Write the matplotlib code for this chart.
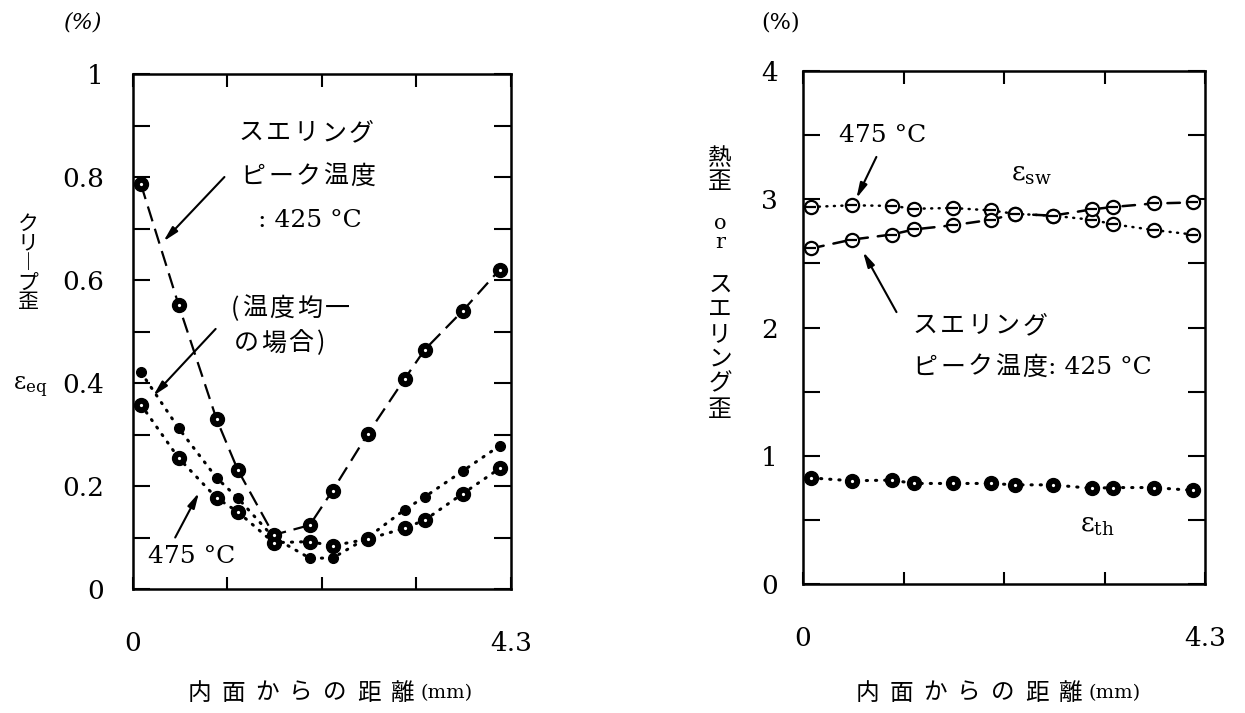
import matplotlib
matplotlib.use("Agg")
import matplotlib.pyplot as plt
from matplotlib.transforms import offset_copy

plt.rcParams['font.family'] = 'DejaVu Serif'
plt.rcParams['mathtext.fontset'] = 'dejavuserif'

JP = ['Noto Sans CJK JP', 'DejaVu Sans']
W, H = 1245, 713

# distance from the inner surface (mm)
dist = [0.09, 0.52, 0.95, 1.19, 1.60, 2.01, 2.27, 2.67, 3.09, 3.32, 3.75, 4.17]

# creep strain (%)
creep_425 = [0.786, 0.551, 0.330, 0.232, 0.105, 0.124, 0.191, 0.301, 0.408, 0.465, 0.540, 0.620]
creep_uniform = [0.421, 0.312, 0.216, 0.177, 0.100, 0.060, 0.060, 0.100, 0.154, 0.179, 0.229, 0.278]
creep_475 = [0.358, 0.254, 0.177, 0.150, 0.090, 0.092, 0.084, 0.097, 0.118, 0.134, 0.185, 0.234]

# swelling strain and thermal strain (%)
sw_475 = [2.940, 2.953, 2.948, 2.926, 2.932, 2.913, 2.886, 2.872, 2.840, 2.805, 2.760, 2.725]
sw_425 = [2.617, 2.685, 2.725, 2.765, 2.797, 2.840, 2.886, 2.872, 2.921, 2.940, 2.967, 2.975]
th = [0.827, 0.805, 0.810, 0.784, 0.784, 0.784, 0.773, 0.773, 0.746, 0.752, 0.752, 0.730]

x_ticks = ['0', '4.3']
left_ticks = ['0', '0.2', '0.4', '0.6', '0.8', '1']
right_ticks = ['0', '1', '2', '3', '4']

DASH = (0, (7, 3.5))
DOT = (0, (0.4, 2.6))
ARROW = dict(arrowstyle='-|>,head_length=0.9,head_width=0.22', lw=1.5,
             color='k', shrinkA=0, shrinkB=0)

fig = plt.figure(figsize=(W / 100, H / 100), dpi=100)
fig.patch.set_facecolor('white')


def fx(px):
    return px / W


def fy(py):
    return 1 - py / H


def spaced(ax, x, y, s, step, size=18, narrow=12):
    # one glyph at a time so the kana get the wide print spacing
    off = 0.0
    for ch in s:
        w = narrow if ch in '()' else step
        tr = offset_copy(ax.transData, fig=fig, x=off + w / 2, y=0, units='dots')
        ax.text(x, y, ch, transform=tr, ha='center', va='center',
                fontsize=size, family=JP)
        off += w
    return off


def fig_spaced(x0, y, s, step, size=17):
    for i, ch in enumerate(s):
        fig.text(fx(x0 + i * step + step / 2), fy(y), ch, ha='center',
                 va='center', fontsize=size, family=JP)


def vlabel(x, y, s, size, ls, family=JP):
    # vertical writing: one glyph per line
    fig.text(fx(x), fy(y), '\n'.join(s), ha='center', va='center',
             fontsize=size, family=family, linespacing=ls, multialignment='center')


def frame(ax, ymax, major, minor, labels, ypad):
    ax.set_xlim(0, 4.3)
    ax.set_ylim(0, ymax)
    ax.set_xticks([0, 4.3], x_ticks)
    ax.set_xticks([4.3 * k / 4 for k in (1, 2, 3)], minor=True)
    ax.set_yticks(major, labels)
    ax.set_yticks(minor, minor=True)
    ax.tick_params(which='both', direction='in', top=True, right=True,
                   width=1.5, length=12, labelsize=19)
    ax.tick_params(axis='x', which='both', length=9, pad=30)
    ax.tick_params(axis='y', pad=ypad)
    for sp in ax.spines.values():
        sp.set_linewidth(1.8)


def specks(ax, y):
    ax.plot(dist, y, ls='none', marker='o', ms=1.3, color='white', zorder=4)


# ---- left: creep strain ----
ax1 = fig.add_axes([fx(133), fy(589), 378 / W, 515 / H])
frame(ax1, 1.0, [0, 0.2, 0.4, 0.6, 0.8, 1.0], [0.1, 0.3, 0.5, 0.7, 0.9],
      left_ticks, 21)

ax1.plot(dist, creep_425, ls=DASH, lw=1.6, color='k', marker='o', ms=10)
ax1.plot(dist, creep_uniform, ls=DOT, lw=2.2, color='k', marker='o', ms=7,
         dash_capstyle='round')
ax1.plot(dist, creep_475, ls=DOT, lw=2.2, color='k', marker='o', ms=10,
         dash_capstyle='round')
specks(ax1, creep_425)
specks(ax1, creep_475)

spaced(ax1, 1.19, 0.885, 'スエリング', 27.5)
spaced(ax1, 1.21, 0.80, 'ピーク温度', 27.5)
ax1.text(1.42, 0.716, ': 425 °C', fontsize=18, ha='left', va='center')
ax1.annotate('', xy=(0.346, 0.675), xytext=(1.04, 0.80), arrowprops=ARROW)

spaced(ax1, 1.09, 0.544, '(温度均一', 27.5)
spaced(ax1, 1.13, 0.477, 'の場合)', 27.5)
ax1.annotate('', xy=(0.23, 0.375), xytext=(0.94, 0.505), arrowprops=ARROW)

ax1.text(0.17, 0.064, '475 °C', fontsize=18, ha='left', va='center')
ax1.annotate('', xy=(0.75, 0.187), xytext=(0.48, 0.10), arrowprops=ARROW)

fig.text(fx(83), fy(23), '(%)', fontsize=16, style='italic', ha='center', va='center')
vlabel(28, 263, 'クリ︱プ歪', 15, 0.85)
fig.text(fx(30), fy(387), r'$\mathregular{ε_{eq}}$', fontsize=17, ha='center', va='center')

fig_spaced(182, 693, '内面からの距離', 34)
fig.text(fx(421), fy(693), '(mm)', fontsize=14, ha='left', va='center')

# ---- right: thermal / swelling strain ----
ax2 = fig.add_axes([fx(803), fy(584), 402 / W, 513 / H])
frame(ax2, 4.0, [0, 1, 2, 3, 4], [0.5, 1.5, 2.5, 3.5], right_ticks, 18)

for series, ls in ((sw_475, DOT), (sw_425, (0, (5, 4)))):
    ax2.plot(dist, series, ls=ls, lw=1.8, color='k', marker='o', ms=9.5,
             mfc='white', mec='k', mew=1.6, dash_capstyle='round')
    ax2.plot(dist, series, ls='none', marker='_', ms=7.5, mew=1.6, color='k')

ax2.plot(dist, th, ls=DOT, lw=2.2, color='k', marker='o', ms=10,
         dash_capstyle='round')
specks(ax2, th)

ax2.text(0.39, 3.50, '475 °C', fontsize=18, ha='left', va='center')
ax2.annotate('', xy=(0.571, 3.007), xytext=(0.785, 3.33), arrowprops=ARROW)
ax2.text(2.23, 3.195, r'$\mathregular{ε_{sw}}$', fontsize=19, ha='left', va='center')

spaced(ax2, 1.16, 2.013, 'スエリング', 27.4)
off = spaced(ax2, 1.16, 1.686, 'ピーク温度', 27.4)
ax2.text(1.16, 1.686, ': 425 °C', fontsize=18, ha='left', va='center',
         transform=offset_copy(ax2.transData, fig=fig, x=off, y=0, units='dots'))
ax2.annotate('', xy=(0.642, 2.59), xytext=(1.0, 2.12), arrowprops=ARROW)
ax2.text(2.96, 0.46, r'$\mathregular{ε_{th}}$', fontsize=19, ha='left', va='center')

fig.text(fx(781), fy(22), '(%)', fontsize=16, ha='center', va='center')
vlabel(720, 170, '熱歪', 17, 0.95)
vlabel(720, 233, 'or', 15, 1.0, family='DejaVu Serif')
vlabel(720, 347, 'スエリング歪', 17, 1.1)

fig_spaced(850, 693, '内面からの距離', 34)
fig.text(fx(1088), fy(693), '(mm)', fontsize=14, ha='left', va='center')

fig.savefig('out.png', dpi=100, facecolor='white')
